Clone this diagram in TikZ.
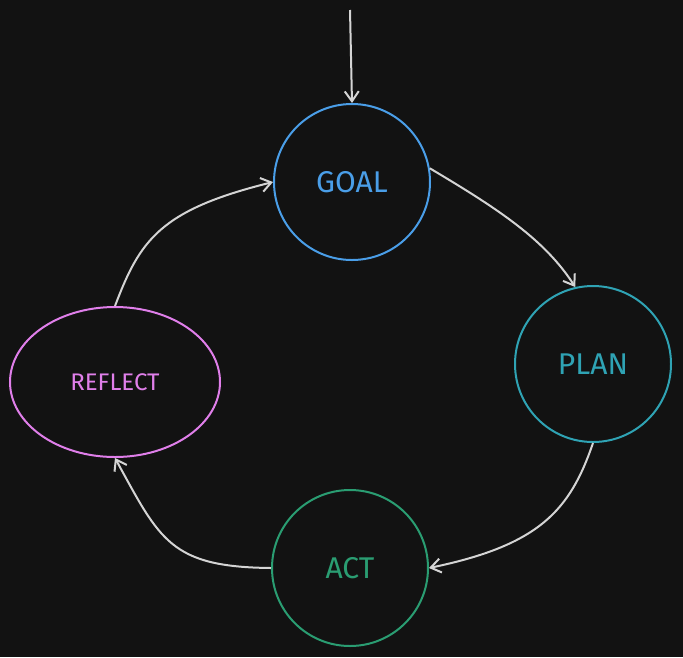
\documentclass[tikz,border=0pt]{standalone}
\usepackage{fontspec}
\setmainfont{Fira Sans}
\usetikzlibrary{arrows.meta,positioning,shapes.geometric}
\definecolor{bgdark}{HTML}{121212}
\definecolor{goalblue}{HTML}{4A9EE8}
\definecolor{planteal}{HTML}{2FA3B4}
\definecolor{actgreen}{HTML}{2A9D72}
\definecolor{reflectpink}{HTML}{E07FEA}
\definecolor{linkgray}{HTML}{D4D4D4}
\tikzset{
    step/.style={draw=#1, text=#1, circle, minimum size=156pt, line width=2pt, font=\fontsize{30}{32}\selectfont},
    link/.style={-{Straight Barb[length=10pt,width=14pt]}, linkgray, line width=2pt},
}
\begin{document}
\begin{tikzpicture}[x=1pt,y=-1pt]
\fill[bgdark] (0,0) rectangle (683,657);
\useasboundingbox (0,0) rectangle (683,657);

\node[step=goalblue] (goal) at (352,182) {GOAL};
\node[step=planteal] (plan) at (593,364) {PLAN};
\node[step=actgreen] (act) at (350,568) {ACT};
\node[step=reflectpink, ellipse, minimum width=210pt, minimum height=150pt, font=\fontsize{24}{26}\selectfont] (reflect) at (115,382) {REFLECT};
\coordinate (start) at (350,10);

\draw[link] (start) -- (goal.north);
\draw[link] (goal.10) .. controls (500,210) and (545,240) .. (plan.103);
\draw[link] (plan.south) .. controls (570,510) and (540,545) .. (act.east);
\draw[link] (act.west) .. controls (170,567) and (160,540) .. (reflect.south);
\draw[link] (reflect.north) .. controls (140,240) and (160,210) .. (goal.west);
\end{tikzpicture}
\end{document}
